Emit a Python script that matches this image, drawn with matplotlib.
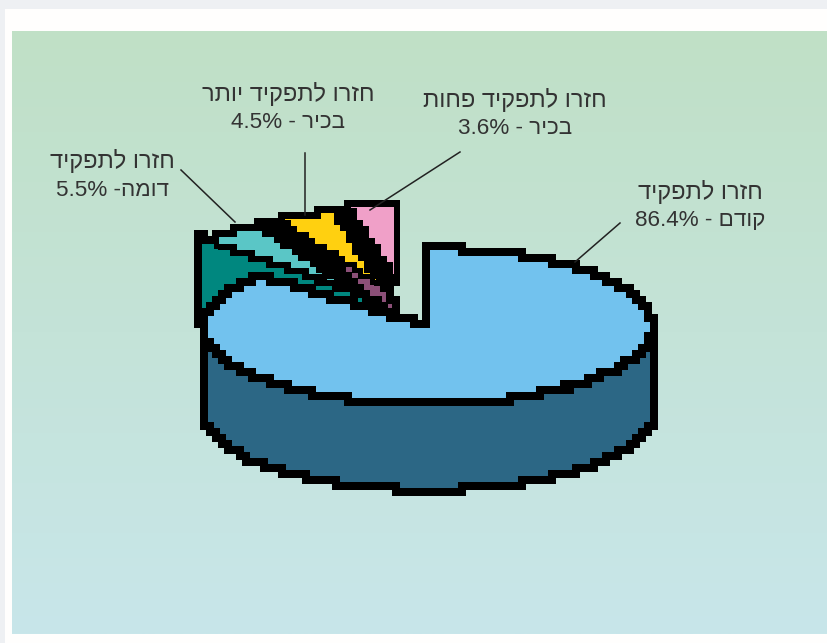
import numpy as np
import matplotlib
matplotlib.use("Agg")
from matplotlib import pyplot as plt
from matplotlib.patches import Polygon, Rectangle

# clockwise from 12 o'clock
shares = [86.4, 5.5, 4.5, 3.6]
line_one = ["חזרו לתפקיד", "חזרו לתפקיד", "חזרו לתפקיד יותר", "חזרו לתפקיד פחות"]
line_two = ["קודם", "דומה", "בכיר", "בכיר"]
separators = [" - ", " -", " - ", " - "]

top_colors = ["#72c2ee", "#5ac6c6", "#ffd010", "#f0a0c8"]
side_colors = ["#2c6785", "#00877f", "#857820", "#8c5078"]

label_pos = [(700, 192), (112, 161), (288, 94), (515, 100)]
leaders = [((575, 262), (620, 223)), ((235, 222), (181, 170)),
           ((305, 215), (305, 153)), ((370, 210), (460, 152))]

# pie geometry in pixels
CX, CY, RX, RY = 428, 326, 225, 78
DEPTH = 86
CELL_X, CELL_Y = 6, 6
EDGE = 8 * 72 / 100
THIN_EDGE = 5 * 72 / 100

# pulled out slices: apex, radial scales, side face offsets (rim, apex)
apex = {1: (345, 286), 2: (378, 284), 3: (398, 282)}
scale_x = {1: 0.8, 2: 0.9, 3: 1.0}
scale_y = {1: 0.9, 2: 0.95, 3: 1.0}
side_rim = {1: (-10, -4), 2: (-7, 7), 3: (-6, 18)}
side_apex = {1: (20, 9), 2: (4, 24), 3: (0, 25)}
side_depth = {1: 90, 2: 45, 3: 45}


def stair(points):
    """Snap a closed outline to a coarse grid, keeping only right angle steps."""
    pts = np.asarray(points, dtype=float)
    closed = np.vstack([pts, pts[0]])
    out = []
    for a, b in zip(closed[:-1], closed[1:]):
        n = int(max(abs(b - a).max(), 1))
        for t in np.linspace(0, 1, n, endpoint=False):
            p = a + (b - a) * t
            q = (round(p[0] / CELL_X) * CELL_X, round(p[1] / CELL_Y) * CELL_Y)
            if out and q == out[-1]:
                continue
            if out and q[0] != out[-1][0] and q[1] != out[-1][1]:
                out.append((q[0], out[-1][1]))
            out.append(q)
    return out


def rim(cx, cy, sx, sy, a0, a1, n=200):
    th = np.radians(np.linspace(a0, a1, n))
    return np.column_stack([cx + sx * RX * np.sin(th), cy - sy * RY * np.cos(th)])


def draw_poly(ax, points, color, lw=EDGE):
    ax.add_patch(Polygon(stair(points), closed=True, facecolor=color, edgecolor="black",
                         linewidth=lw, joinstyle="miter"))


fig = plt.figure(figsize=(8.27, 6.43), dpi=100)
ax = fig.add_axes([0, 0, 1, 1])
ax.set_xlim(0, 827)
ax.set_ylim(643, 0)
ax.axis("off")

# page, frame and gradient panel
ax.add_patch(Rectangle((0, 0), 827, 643, facecolor="#eef0f3", edgecolor="none"))
ax.add_patch(Rectangle((5, 9), 822, 634, facecolor="#fffefd", edgecolor="none"))
grad = np.linspace(0, 1, 256)[:, None, None]
panel = (1 - grad) * np.array([0xc0, 0xe0, 0xc6]) / 255 + grad * np.array([0xc8, 0xe6, 0xea]) / 255
ax.imshow(panel, extent=(12, 827, 634, 31), aspect="auto", zorder=1)
ax.set_xlim(0, 827)
ax.set_ylim(643, 0)

angles = np.concatenate([[0], np.cumsum(shares)]) * 3.6
arcs = {i: rim(apex[i][0], apex[i][1], scale_x[i], scale_y[i], angles[i], angles[i + 1])
        for i in (1, 2, 3)}

# black backing so the gaps between the small slices stay closed
draw_poly(ax, np.vstack([arcs[1], arcs[2], arcs[3], [apex[3]], [apex[1]]]), "black")

# side faces of the small slices first, their top faces after
for i in (3, 2, 1):
    s0 = arcs[i][0] + side_rim[i]
    s1 = np.array(apex[i], dtype=float) + side_apex[i]
    d = np.array([0, side_depth[i]])
    draw_poly(ax, [s0, s1, s1 + d, s0 + d], side_colors[i])
for i in (3, 2, 1):
    draw_poly(ax, np.vstack([[apex[i]], arcs[i]]), top_colors[i], lw=THIN_EDGE)

# main slice: wall first, top face over it
front = rim(CX, CY, 1, 1, 90, 270)
draw_poly(ax, np.vstack([front, (front + [0, DEPTH])[::-1]]), side_colors[0])
draw_poly(ax, np.vstack([[(CX, CY)], rim(CX, CY, 1, 1, angles[0], angles[1])]), top_colors[0])

for p, q in leaders:
    ax.plot([p[0], q[0]], [p[1], q[1]], color="#222222", lw=1.1, zorder=6)

# matplotlib lays text out left to right, so the Hebrew runs are reversed for display
for i, (x, y) in enumerate(label_pos):
    ax.text(x, y, line_one[i][::-1], ha="center", va="center", fontsize=17,
            family="Liberation Sans", color="#333333", zorder=7)
    second = f"{shares[i]}%{separators[i]}{line_two[i][::-1]}"
    ax.text(x, y + 29, second, ha="center", va="center", fontsize=16.2,
            family="Liberation Sans", color="#333333", zorder=7)

fig.savefig("out.png", dpi=100)
